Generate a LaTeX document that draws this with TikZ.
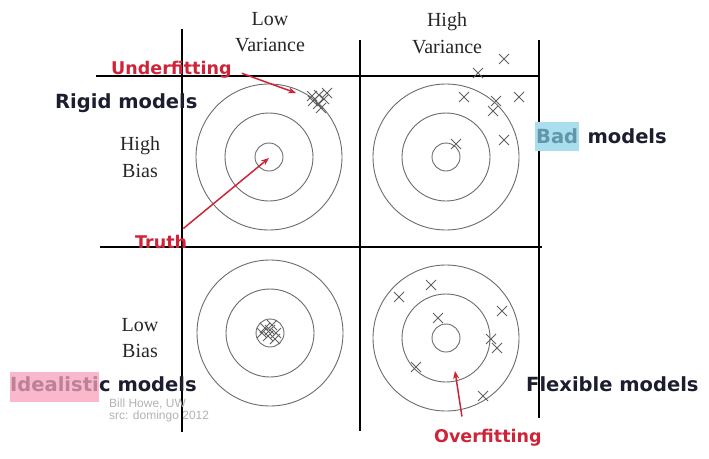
\documentclass[tikz,border=0pt]{standalone}
\usepackage{fontspec}
\setmainfont{Liberation Serif}
\newfontfamily\tagfont{DejaVu Sans}
\newfontfamily\creditfont{Liberation Sans}
\usepackage{xcolor}
\usetikzlibrary{arrows.meta,positioning}

\definecolor{fitred}{RGB}{206,36,56}
\definecolor{inkdark}{RGB}{28,30,48}
\definecolor{badblue}{RGB}{170,222,236}
\definecolor{badtext}{RGB}{96,150,172}
\definecolor{idealpink}{RGB}{250,184,204}
\definecolor{idealtext}{RGB}{188,128,152}

\begin{document}
\begin{tikzpicture}[x=1pt, y=-1pt,
    gridline/.style={draw=black, line width=1.1pt},
    ring/.style={draw=black!58, line width=0.9pt},
    hit/.style={draw=black!62, line width=0.8pt},
    axislabel/.style={align=center, inner sep=0pt, text=black!85,
                font=\fontsize{20}{26.5}\selectfont},
    modeltag/.style={anchor=base west, inner sep=0pt, text=inkdark,
                font=\tagfont\bfseries\fontsize{19.5}{22}\selectfont},
    fittag/.style={anchor=base west, inner sep=0pt, text=fitred,
                font=\tagfont\bfseries\fontsize{17.5}{20}\selectfont},
    credit/.style={anchor=base west, inner sep=0pt, text=black!30,
                font=\creditfont\fontsize{12}{14}\selectfont},
    arrow/.style={-{Stealth[length=2.8mm, width=2.2mm]}, line width=1.5pt, draw=fitred}
]
  \useasboundingbox (0,0) rectangle (709,458);

  % grid
  \draw[gridline] (182,29) -- (182,432);
  \draw[gridline] (360,40) -- (360,431);
  \draw[gridline] (539,40) -- (539,418);
  \draw[gridline] (96,76) -- (540,76);
  \draw[gridline] (100,247) -- (542,247);

  % targets
  \coordinate (tl) at (269,157);
  \coordinate (tr) at (446,157);
  \coordinate (bl) at (270,333);
  \coordinate (br) at (446,338);
  \foreach \c in {tl,tr,bl,br}
    \foreach \r in {73,44,14}
      \draw[ring] (\c) circle[radius=\r];

  % hits
  \foreach \p in {(313,101),(319,95),(324,99),(318,104),(327,93),(321,108),(312,96),
                  (504,59),(478,73),(464,97),(496,101),(519,97),(493,111),(504,140),(456,144),
                  (265,328),(272,325),(276,333),(268,336),(262,333),(275,339),(270,330),
                  (399,297),(431,285),(502,311),(438,318),(491,339),(497,348),(416,367),(483,396)}
    \draw[hit] \p +(-5,-5) -- +(5,5) \p +(-5,5) -- +(5,-5);

  % axis labels
  \node[axislabel] (lowvar) at (270,32) {Low\\Variance};
  \node[axislabel] (highvar) at (447,33) {High\\Variance};
  \node[axislabel] (highbias) at (140,157) {High\\Bias};
  \node[axislabel] (lowbias) at (140,338) {Low\\Bias};

  % model labels
  \node[modeltag] (rigid) at (55,108) {Rigid models};
  \node[modeltag, fill=badblue, text=badtext, inner xsep=1pt,
        text height=21pt, text depth=8pt] (bad) at (535,143) {Bad};
  \node[modeltag] (badm) at ([xshift=8pt]bad.base east) {models};
  \node[modeltag, fill=idealpink, text=idealtext,
        text height=19pt, text depth=11pt] (ideal) at (10,391) {Idealisti};
  \node[modeltag] (idealm) at (ideal.base east) {c models};
  \node[modeltag] (flex) at (526,391) {Flexible models};

  % credit
  \node[credit] (who) at (109,407) {Bill Howe, UW};
  \node[credit] (src) at (109,419) {src: domingo 2012};

  % fit labels and arrows
  \node[fittag] (under) at (111,74) {Underfitting};
  \node[fittag] (truth) at (135,248) {Truth};
  \node[fittag] (over) at (434,442) {Overfitting};
  \coordinate (underTip) at (296,93);
  \coordinate (truthTip) at (269,158);
  \coordinate (overTip) at (455,371);

  \draw[arrow] ([shift={(10,4)}]under.east) -- (underTip);
  \draw[arrow] ([shift={(-4,-6)}]truth.north east) -- (truthTip);
  \draw[arrow] ([shift={(-26,-12)}]over.north) -- (overTip);
\end{tikzpicture}
\end{document}
